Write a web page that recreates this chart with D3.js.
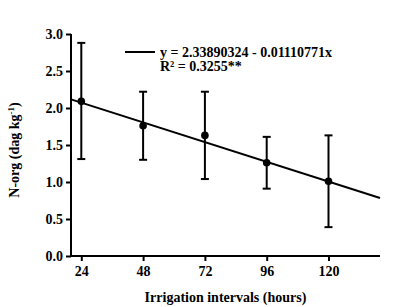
<!DOCTYPE html>
<html>
<head>
<meta charset="utf-8">
<script src="https://cdn.jsdelivr.net/npm/d3@7"></script>
<style>
body{margin:0;background:#fff;}
text{font-family:"Liberation Serif","Times New Roman",serif;font-weight:bold;fill:#000;}
</style>
</head>
<body>
<svg id="chart" width="398" height="307"></svg>
<script>
const hours=[24,48,72,96,120];
const means=[2.09,1.76,1.63,1.26,1.01];
const upper=[2.88,2.22,2.22,1.61,1.63];
const lower=[1.31,1.30,1.04,0.91,0.39];
const yTicks=[0,0.5,1,1.5,2,2.5,3];
const fit={a:2.33890324,b:-0.01110771};
const eqLabel="y = 2.33890324 - 0.01110771x";
const r2Label="R² = 0.3255**";

const svg=d3.select("#chart");
const m={l:71,r:18,t:34,b:51},w=398,h=307;
const fs="14px";

const x=d3.scaleLinear().domain([20,140]).range([m.l,w-m.r]);
const y=d3.scaleLinear().domain([0,3]).range([h-m.b,m.t]);

// axes
const ya=svg.append("g").attr("transform",`translate(${m.l},0)`)
  .call(d3.axisLeft(y).tickValues(yTicks).tickFormat(d3.format(".1f")).tickSize(5).tickSizeOuter(0));
const xa=svg.append("g").attr("transform",`translate(0,${h-m.b})`)
  .call(d3.axisBottom(x).tickValues(hours).tickSize(5).tickSizeOuter(0));
[ya,xa].forEach(g=>{
  g.selectAll("path,line").attr("stroke","#000").attr("stroke-width",2);
  g.selectAll("text").style("font-size",fs).style("font-family","Liberation Serif, serif").style("font-weight","bold");
});
ya.select(".domain").attr("d",`M0,${y(0)+1}V${y(3)}`);
xa.select(".domain").attr("d",`M${m.l-1},0H${x(140)}`);
ya.selectAll("text").attr("x",-8);
xa.selectAll("text").attr("y",10);

// regression line
svg.append("line")
  .attr("x1",x(20)).attr("y1",y(fit.a+fit.b*20))
  .attr("x2",x(140)).attr("y2",y(fit.a+fit.b*140))
  .attr("stroke","#000").attr("stroke-width",2);

// error bars
const data=hours.map((hr,i)=>({hr,mean:means[i],hi:upper[i],lo:lower[i]}));
const eb=svg.append("g").attr("stroke","#000").attr("stroke-width",2);
eb.selectAll(".v").data(data).join("line")
  .attr("x1",d=>x(d.hr)).attr("x2",d=>x(d.hr))
  .attr("y1",d=>y(d.hi)).attr("y2",d=>y(d.lo));
eb.selectAll(".cu").data(data).join("line")
  .attr("x1",d=>x(d.hr)-4).attr("x2",d=>x(d.hr)+4)
  .attr("y1",d=>y(d.hi)).attr("y2",d=>y(d.hi));
eb.selectAll(".cl").data(data).join("line")
  .attr("x1",d=>x(d.hr)-4).attr("x2",d=>x(d.hr)+4)
  .attr("y1",d=>y(d.lo)).attr("y2",d=>y(d.lo));

svg.append("g").selectAll("circle").data(data).join("circle")
  .attr("cx",d=>x(d.hr)).attr("cy",d=>y(d.mean)).attr("r",3.8).attr("fill","#000");

// legend
svg.append("line").attr("x1",125).attr("x2",155).attr("y1",52).attr("y2",52)
  .attr("stroke","#000").attr("stroke-width",2);
svg.append("text").attr("x",160).attr("y",57).style("font-size",fs).text(eqLabel);
svg.append("text").attr("x",160).attr("y",71).style("font-size",fs).text(r2Label);

// axis titles
svg.append("text").attr("x",(m.l+w-m.r)/2).attr("y",302).attr("text-anchor","middle")
  .style("font-size",fs).text("Irrigation intervals (hours)");
const yl=svg.append("text").attr("transform",`translate(19,${(m.t+h-m.b)/2+5}) rotate(-90)`)
  .attr("text-anchor","middle").style("font-size",fs);
yl.append("tspan").text("N-org (dag kg");
yl.append("tspan").attr("dy",-5).style("font-size","9px").text("-1");
yl.append("tspan").attr("dy",5).text(")");
</script>
</body>
</html>
